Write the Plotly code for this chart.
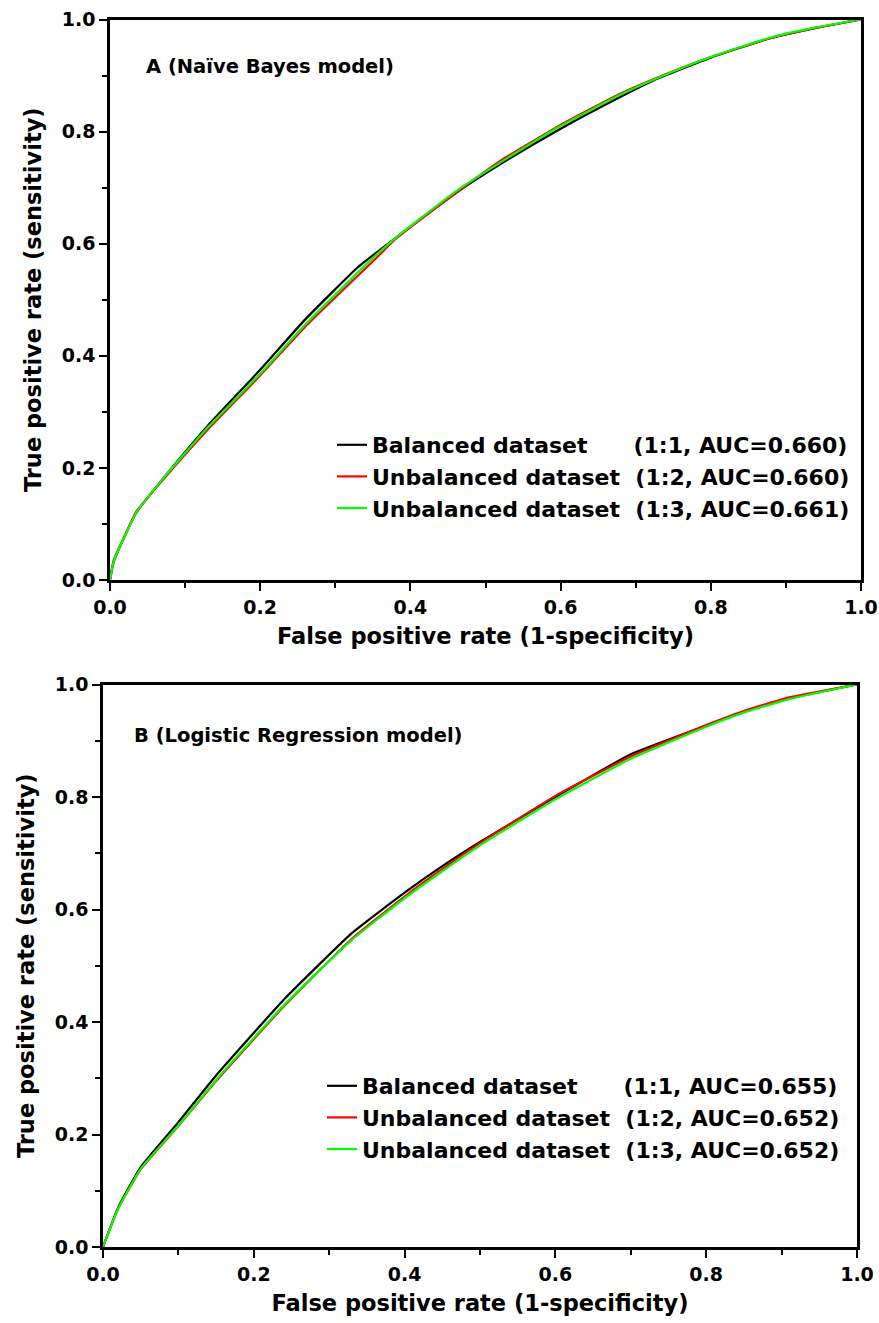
import plotly.graph_objects as go

# ---- Panel A: Naive Bayes ROC curves ----
nb_bal_x = [0.0, 0.005, 0.035, 0.07, 0.13, 0.2, 0.26, 0.33, 0.38, 0.46, 0.52, 0.6, 0.68, 0.73, 0.8, 0.88, 0.94, 1.0]
nb_bal_y = [0.0, 0.035, 0.12, 0.18, 0.275, 0.375, 0.465, 0.558, 0.61, 0.69, 0.742, 0.805, 0.862, 0.895, 0.932, 0.967, 0.985, 1.0]
nb_u2_x = [0.0, 0.005, 0.035, 0.07, 0.13, 0.2, 0.26, 0.355, 0.38, 0.46, 0.52, 0.6, 0.68, 0.73, 0.8, 0.88, 0.94, 1.0]
nb_u2_y = [0.0, 0.032, 0.122, 0.178, 0.268, 0.365, 0.452, 0.575, 0.608, 0.69, 0.748, 0.812, 0.868, 0.897, 0.933, 0.967, 0.985, 1.0]
nb_u3_x = [0.0, 0.005, 0.035, 0.07, 0.13, 0.2, 0.26, 0.345, 0.38, 0.46, 0.52, 0.6, 0.68, 0.73, 0.8, 0.88, 0.94, 1.0]
nb_u3_y = [0.0, 0.034, 0.12, 0.18, 0.272, 0.368, 0.456, 0.568, 0.61, 0.693, 0.745, 0.81, 0.866, 0.896, 0.933, 0.968, 0.986, 1.0]

# ---- Panel B: Logistic Regression ROC curves ----
lr_bal_x = [0.0, 0.02, 0.05, 0.1, 0.15, 0.24, 0.33, 0.4, 0.45, 0.5, 0.6, 0.7, 0.8, 0.85, 0.91, 1.0]
lr_bal_y = [0.0, 0.07, 0.142, 0.222, 0.305, 0.44, 0.558, 0.63, 0.677, 0.72, 0.8, 0.876, 0.927, 0.952, 0.975, 1.0]
lr_u2_x = [0.0, 0.02, 0.05, 0.1, 0.15, 0.24, 0.33, 0.4, 0.45, 0.5, 0.6, 0.7, 0.8, 0.85, 0.91, 1.0]
lr_u2_y = [0.0, 0.068, 0.138, 0.215, 0.295, 0.428, 0.548, 0.623, 0.672, 0.718, 0.802, 0.872, 0.928, 0.953, 0.977, 1.0]
lr_u3_x = [0.0, 0.02, 0.05, 0.1, 0.15, 0.24, 0.33, 0.4, 0.45, 0.5, 0.6, 0.7, 0.8, 0.85, 0.91, 1.0]
lr_u3_y = [0.0, 0.068, 0.139, 0.216, 0.297, 0.43, 0.546, 0.62, 0.668, 0.714, 0.796, 0.868, 0.925, 0.95, 0.974, 1.0]

legend_a = ["Balanced dataset&nbsp;&nbsp;&nbsp;&nbsp;&nbsp;&nbsp;(1:1, AUC=0.660)",
            "Unbalanced dataset&nbsp;&nbsp;(1:2, AUC=0.660)",
            "Unbalanced dataset&nbsp;&nbsp;(1:3, AUC=0.661)"]
legend_b = ["Balanced dataset&nbsp;&nbsp;&nbsp;&nbsp;&nbsp;&nbsp;(1:1, AUC=0.655)",
            "Unbalanced dataset&nbsp;&nbsp;(1:2, AUC=0.652)",
            "Unbalanced dataset&nbsp;&nbsp;(1:3, AUC=0.652)"]
colors = ["#000000", "#FF0000", "#00FF00"]

tick_vals = [0.0, 0.2, 0.4, 0.6, 0.8, 1.0]
tick_text = ["0.0", "0.2", "0.4", "0.6", "0.8", "1.0"]
minor_vals = [0.1, 0.3, 0.5, 0.7, 0.9]

FONT = "DejaVu Sans, Arial, sans-serif"
W, H = 879, 1323

fig = go.Figure()
for xs, ys, name, c in zip([nb_bal_x, nb_u2_x, nb_u3_x], [nb_bal_y, nb_u2_y, nb_u3_y], legend_a, colors):
    fig.add_trace(go.Scatter(x=xs, y=ys, mode="lines", name="<b>" + name + "</b>",
                             line=dict(color=c, width=2.2, shape="spline", smoothing=0.4),
                             xaxis="x", yaxis="y", legend="legend"))
for xs, ys, name, c in zip([lr_bal_x, lr_u2_x, lr_u3_x], [lr_bal_y, lr_u2_y, lr_u3_y], legend_b, colors):
    fig.add_trace(go.Scatter(x=xs, y=ys, mode="lines", name="<b>" + name + "</b>",
                             line=dict(color=c, width=2.2, shape="spline", smoothing=0.4),
                             xaxis="x2", yaxis="y2", legend="legend2"))

def axis_common():
    return dict(range=[0, 1], tickmode="array", tickvals=tick_vals, ticktext=tick_text,
                ticks="outside", ticklen=8, tickwidth=2, tickcolor="black",
                showline=True, linewidth=2.5, linecolor="black", mirror=True,
                showgrid=False, zeroline=False, automargin=False,
                tickfont=dict(family=FONT, size=19, color="black", weight="bold"),
                minor=dict(tickvals=minor_vals, ticks="outside", ticklen=5,
                           tickwidth=2, tickcolor="black", showgrid=False))

title_font = dict(family=FONT, size=22.5, color="black", weight="bold")

ax1x = axis_common(); ax1x.update(domain=[110 / W, 861 / W], anchor="y",
                                  title=dict(text="False positive rate (1-specificity)", font=title_font, standoff=12))
ax1y = axis_common(); ax1y.update(domain=[1 - 580 / H, 1 - 19.5 / H], anchor="x",
                                  title=dict(text="True positive rate (sensitivity)", font=title_font, standoff=14))
ax2x = axis_common(); ax2x.update(domain=[103 / W, 857 / W], anchor="y2",
                                  title=dict(text="False positive rate (1-specificity)", font=title_font, standoff=12))
ax2y = axis_common(); ax2y.update(domain=[1 - 1247 / H, 1 - 684.5 / H], anchor="x2",
                                  title=dict(text="True positive rate (sensitivity)", font=title_font, standoff=14))

legend_font = dict(family=FONT, size=22, color="black")

fig.update_layout(
    width=W, height=H, margin=dict(l=0, r=0, t=0, b=0),
    paper_bgcolor="white", plot_bgcolor="white",
    xaxis=ax1x, yaxis=ax1y, xaxis2=ax2x, yaxis2=ax2y,
    showlegend=True,
    legend=dict(x=(377 - 45) / W, y=1 - 424 / H, xanchor="left", yanchor="top",
                bgcolor="rgba(0,0,0,0)", font=legend_font, tracegroupgap=0, itemwidth=30),
    legend2=dict(x=(367 - 45) / W, y=1 - 1065 / H, xanchor="left", yanchor="top",
                 bgcolor="rgba(0,0,0,0)", font=legend_font, tracegroupgap=0, itemwidth=30),
    annotations=[
        dict(text="<b>A (Naïve Bayes model)</b>", xref="paper", yref="paper",
             x=144 / W, y=1 - 67 / H, xanchor="left", yanchor="middle", showarrow=False,
             font=dict(family=FONT, size=19.5, color="black")),
        dict(text="<b>B (Logistic Regression model)</b>", xref="paper", yref="paper",
             x=132 / W, y=1 - 735 / H, xanchor="left", yanchor="middle", showarrow=False,
             font=dict(family=FONT, size=19.5, color="black")),
    ],
)

fig.write_html("out.html")
